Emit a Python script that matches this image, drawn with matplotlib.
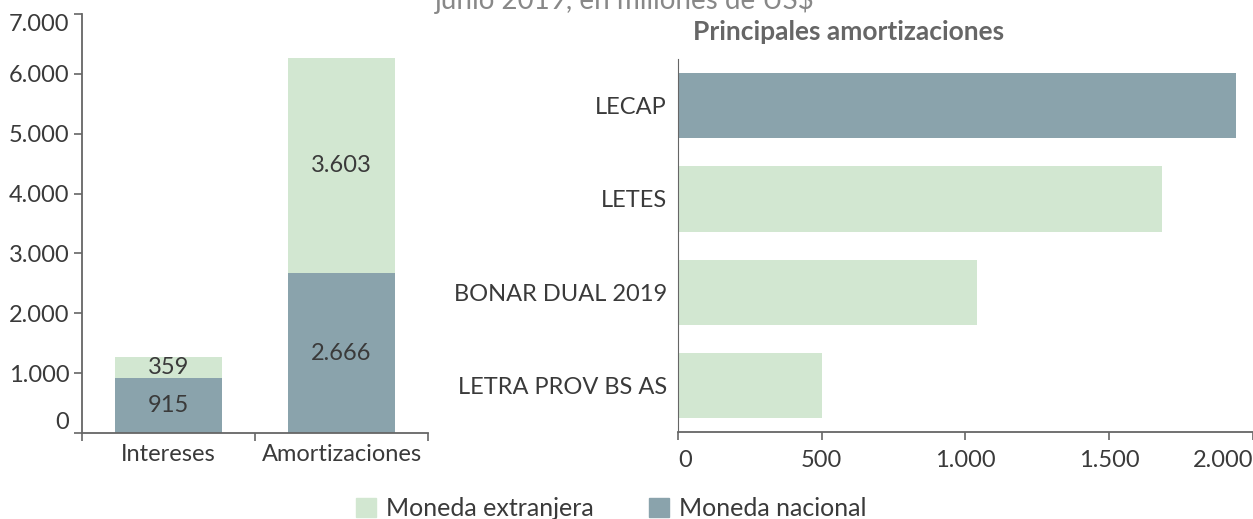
import matplotlib
matplotlib.use("Agg")
import matplotlib.pyplot as plt
from matplotlib.patches import Patch
from matplotlib.ticker import FuncFormatter

# Vencimientos junio 2019 (millones de US$)
categorias = ["Intereses", "Amortizaciones"]
moneda_nacional = [915, 2666]
moneda_extranjera = [359, 3603]

instrumentos = ["LECAP", "LETES", "BONAR DUAL 2019", "LETRA PROV BS AS"]
montos = [1940, 1685, 1040, 500]
es_nacional = [True, False, False, False]

C_NAC = "#8aa3ac"
C_EXT = "#d2e7d1"
TXT = "#3a3a3a"
AXC = "#666666"
FS = 17

plt.rcParams["font.family"] = ["Lato", "DejaVu Sans"]


def miles(v, _pos=None):
    return f"{int(v):,}".replace(",", ".")


fig = plt.figure(figsize=(12.53, 5.19), dpi=100)

# ---- left: stacked columns
ax1 = fig.add_axes([0.0654, 0.1657, 0.2762, 0.8073])
x = range(len(categorias))
ax1.bar(x, moneda_nacional, width=0.62, color=C_NAC, zorder=2)
ax1.bar(x, moneda_extranjera, width=0.62, bottom=moneda_nacional, color=C_EXT, zorder=2)
for i in x:
    ax1.text(i, moneda_nacional[i] / 2, miles(moneda_nacional[i]),
             ha="center", va="center", fontsize=FS, color=TXT)
    ax1.text(i, moneda_nacional[i] + moneda_extranjera[i] / 2, miles(moneda_extranjera[i]),
             ha="center", va="center", fontsize=FS, color=TXT)

ax1.set_xlim(-0.5, 1.5)
ax1.set_ylim(0, 7000)
ax1.set_yticks(range(0, 7001, 1000))
ax1.yaxis.set_major_formatter(FuncFormatter(miles))
ax1.set_xticks(list(x))
ax1.set_xticklabels(categorias)
ax1.set_xticks([-0.5, 0.5, 1.5], minor=True)
ax1.tick_params(axis="x", which="major", length=0, labelsize=FS, labelcolor=TXT, pad=8)
ax1.tick_params(axis="x", which="minor", length=6, color=AXC, width=1.2)
ax1.tick_params(axis="y", length=6, color=AXC, width=1.2, labelsize=FS, labelcolor=TXT, pad=3)
for s in ("top", "right"):
    ax1.spines[s].set_visible(False)
for s in ("left", "bottom"):
    ax1.spines[s].set_color(AXC)
    ax1.spines[s].set_linewidth(1.3)
ylabs = ax1.get_yticklabels()
ylabs[0].set_va("bottom")
ylabs[-1].set_va("top")

# ---- right: horizontal bars
ax2 = fig.add_axes([0.5411, 0.1676, 0.4589, 0.7187])
colores = [C_NAC if n else C_EXT for n in es_nacional]
ax2.barh(range(len(instrumentos)), montos, height=0.70, color=colores, zorder=2)
ax2.set_ylim(len(instrumentos) - 0.5, -0.5)
ax2.set_xlim(0, 2000)
ax2.set_yticks(range(len(instrumentos)))
ax2.set_yticklabels(instrumentos)
ax2.set_xticks(range(0, 2001, 500))
ax2.xaxis.set_major_formatter(FuncFormatter(miles))
ax2.tick_params(axis="y", length=0, labelsize=FS, labelcolor=TXT, pad=8)
ax2.tick_params(axis="x", length=6, color=AXC, width=1.2, labelsize=FS, labelcolor=TXT, pad=7)
for s in ("top", "right"):
    ax2.spines[s].set_visible(False)
for s in ("left", "bottom"):
    ax2.spines[s].set_color(AXC)
    ax2.spines[s].set_linewidth(1.3)
ax2.spines["left"].set_linewidth(0.8)
xlabs = ax2.get_xticklabels()
xlabs[0].set_ha("left")
xlabs[-1].set_ha("right")
ax2.set_title("Principales amortizaciones", fontsize=19, fontweight="bold",
              color="#666666", pad=14, x=0.296)

# ---- header (cut off at top) and legend
fig.text(0.499, 1.0, "junio 2019, en millones de US$", ha="center", va="center",
         fontsize=20, color="#888888")

handles = [Patch(color=C_EXT, label="Moneda extranjera"),
           Patch(color=C_NAC, label="Moneda nacional")]
fig.legend(handles=handles, loc="lower center", bbox_to_anchor=(0.488, -0.045), ncol=2,
           frameon=False, fontsize=18, labelcolor=TXT, handlelength=0.8,
           handleheight=0.8, handletextpad=0.4, columnspacing=2.2)

fig.savefig("out.png", dpi=100)
